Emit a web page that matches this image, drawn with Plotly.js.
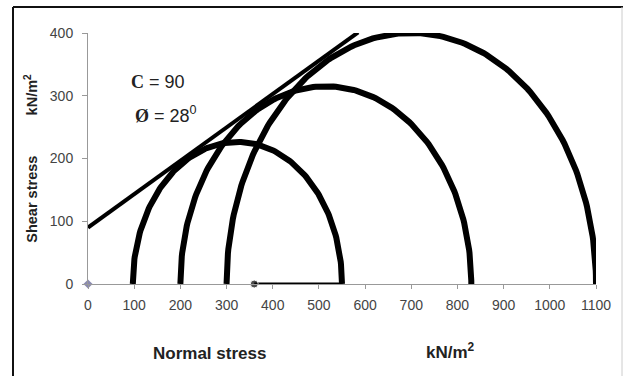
<!DOCTYPE html>
<html>
<head>
<meta charset="utf-8">
<script src="https://cdn.plot.ly/plotly-3.0.1.min.js"></script>
<style>html,body{margin:0;padding:0;background:#fff;}#chart{width:624px;height:376px;}</style>
</head>
<body>
<div id="chart"></div>
<script>
// Mohr circles: minor and major principal stresses (kN/m2)
const sigma3 = [97, 200, 300];
const sigma1 = [550, 830, 1100];
// Failure envelope
const cohesion = 90;
const phiDeg = 28;
const envelopeX = [0, 585];
// Horizontal segment on the sigma axis
const segX = [360, 550];
const segY = [0, 0];
// Origin marker
const originX = [0];
const originY = [0];
const xTicks = [0,100,200,300,400,500,600,700,800,900,1000,1100];
const yTicks = [0,100,200,300,400];

const traces = [];
for (let i = 0; i < sigma3.length; i++) {
  const c = (sigma1[i] + sigma3[i]) / 2, r = (sigma1[i] - sigma3[i]) / 2;
  const xs = [], ys = [];
  for (let k = 0; k <= 180; k++) {
    const t = Math.PI * k / 180;
    xs.push(c - r * Math.cos(t));
    ys.push(r * Math.sin(t));
  }
  traces.push({x: xs, y: ys, mode: 'lines', line: {color: '#000', width: 6}, cliponaxis: false, hoverinfo: 'skip'});
}
const tanPhi = Math.tan(phiDeg * Math.PI / 180);
traces.push({x: envelopeX, y: envelopeX.map(v => cohesion + v * tanPhi), mode: 'lines',
  line: {color: '#000', width: 4}, cliponaxis: false});
traces.push({x: segX, y: segY, mode: 'lines+markers', line: {color: '#000', width: 3},
  marker: {color: '#000', size: [8, 0]}, cliponaxis: false});
traces.push({x: originX, y: originY, mode: 'markers', marker: {symbol: 'diamond', color: '#8a8ab0', size: 7}, cliponaxis: false});

const L = 88, R = 596, T = 33, B = 284;
const W = R - L, H = B - T;
const px = v => (v - L) / W, py = v => (B - v) / H;

const layout = {
  width: 624, height: 376,
  margin: {l: L, r: 624 - R, t: T, b: 376 - B},
  paper_bgcolor: '#fff', plot_bgcolor: '#fff',
  showlegend: false,
  font: {family: 'Liberation Sans, Arial, sans-serif'},
  xaxis: {range: [0, 1100], tickvals: xTicks, ticktext: xTicks.map(String), showgrid: false, zeroline: false,
    showline: true, linecolor: '#999', linewidth: 1, ticks: 'outside', ticklen: 4, tickcolor: '#999',
    ticklabelstandoff: 4, tickfont: {size: 14, color: '#444'}},
  yaxis: {range: [0, 400], tickvals: yTicks, ticktext: yTicks.map(String), showgrid: false, zeroline: false,
    showline: true, linecolor: '#999', linewidth: 1, ticks: 'outside', ticklen: 5, tickcolor: '#999',
    ticklabelstandoff: 6, tickfont: {size: 14, color: '#444'},
    title: {text: '<b>Shear stress\u00A0\u00A0\u00A0\u00A0\u00A0\u00A0\u00A0\u00A0\u00A0\u00A0kN/m<sup>2</sup></b>', font: {size: 14.5, color: '#222'}, standoff: 8}},
  annotations: [
    {xref: 'paper', yref: 'paper', x: px(209), y: py(353), xanchor: 'center', yanchor: 'middle', text: '<b>Normal stress</b>', showarrow: false,
      font: {size: 17, color: '#222'}},
    {xref: 'paper', yref: 'paper', x: px(450), y: py(351), xanchor: 'center', yanchor: 'middle', text: '<b>kN/m<sup>2</sup></b>', showarrow: false,
      font: {size: 17, color: '#222'}},
    {xref: 'paper', yref: 'paper', x: px(129), y: py(82), xanchor: 'left', yanchor: 'middle',
      text: '<span style="font-family:Liberation Serif, Times New Roman, serif"><b>C</b></span> = 90', showarrow: false,
      font: {size: 18, color: '#222'}},
    {xref: 'paper', yref: 'paper', x: px(133), y: py(114), xanchor: 'left', yanchor: 'middle',
      text: '<span style="font-family:Liberation Serif, Times New Roman, serif"><b>Ø</b></span> = 28<sup>0</sup>', showarrow: false,
      font: {size: 18, color: '#222'}}
  ],
  shapes: [
    {type: 'line', xref: 'paper', yref: 'paper', x0: px(13), x1: px(623), y0: py(7), y1: py(7), line: {color: '#111', width: 2}},
    {type: 'line', xref: 'paper', yref: 'paper', x0: px(13), x1: px(13), y0: py(7), y1: py(380), line: {color: '#111', width: 2}},
    {type: 'line', xref: 'paper', yref: 'paper', x0: px(622), x1: px(622), y0: py(7), y1: py(380), line: {color: '#ccc', width: 1}}
  ]
};
Plotly.newPlot('chart', traces, layout, {staticPlot: true});
</script>
</body>
</html>
